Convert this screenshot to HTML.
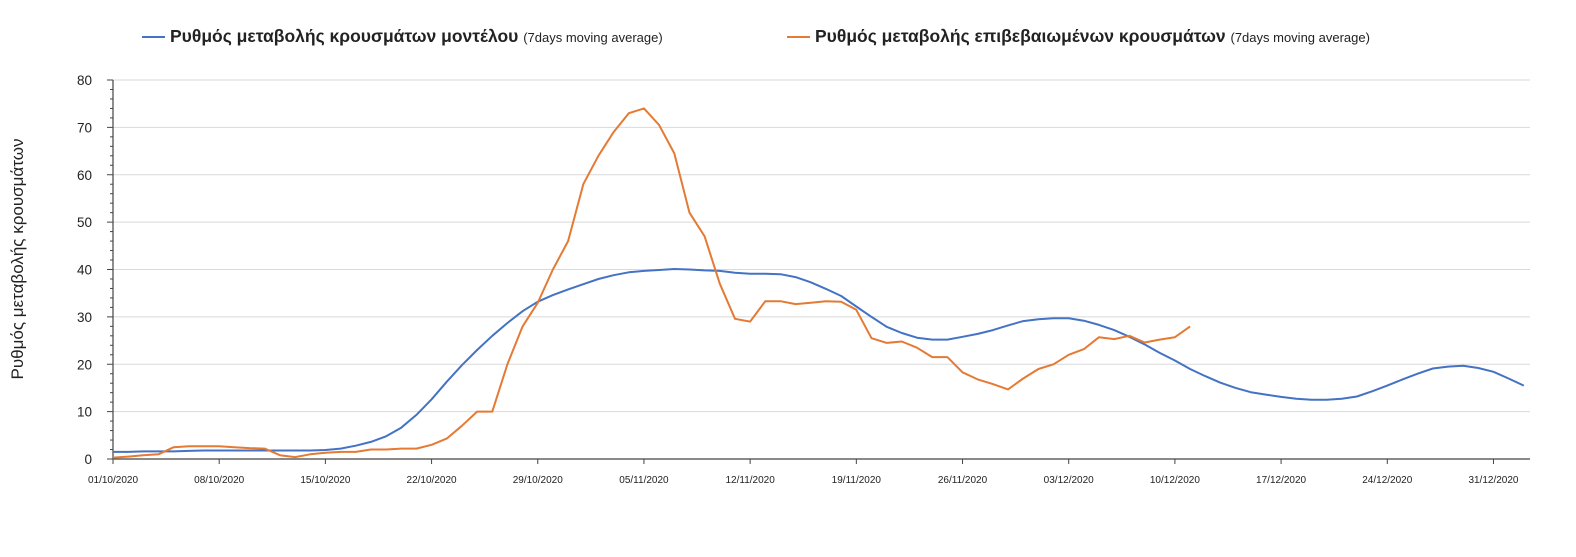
<!DOCTYPE html>
<html><head><meta charset="utf-8"><style>
body{margin:0;background:#fff;font-family:"Liberation Sans","DejaVu Sans",sans-serif}
svg text{font-family:"Liberation Sans","DejaVu Sans",sans-serif}
</style></head><body>
<svg id="c" width="1576" height="552" xmlns="http://www.w3.org/2000/svg">
<g>
<g>
<line x1="142" y1="37" x2="165" y2="37" stroke="#4472c4" stroke-width="2"/>
<text x="170" y="42" font-size="17.5" font-weight="bold" fill="#222">Ρυθμός μεταβολής κρουσμάτων μοντέλου <tspan font-size="13" font-weight="normal">(7days moving average)</tspan></text>
</g>
<g>
<line x1="787" y1="37" x2="810" y2="37" stroke="#e47a34" stroke-width="2"/>
<text x="815" y="42" font-size="17.5" font-weight="bold" fill="#222">Ρυθμός μεταβολής επιβεβαιωμένων κρουσμάτων <tspan font-size="13" font-weight="normal">(7days moving average)</tspan></text>
</g>
</g>
<text transform="translate(23,259) rotate(-90)" text-anchor="middle" font-size="17" fill="#222">Ρυθμός μεταβολής κρουσμάτων</text>
<g id="grid"></g><g id="axes"></g><g id="series"></g>
</svg>
<script>
const yTicks=[0,10,20,30,40,50,60,70,80];
const xTickLabels=["01/10/2020","08/10/2020","15/10/2020","22/10/2020","29/10/2020","05/11/2020","12/11/2020","19/11/2020","26/11/2020","03/12/2020","10/12/2020","17/12/2020","24/12/2020","31/12/2020"];
const modelValues=[1.5,1.5,1.6,1.6,1.6,1.7,1.8,1.8,1.8,1.8,1.8,1.8,1.8,1.8,1.9,2.2,2.8,3.6,4.8,6.6,9.3,12.6,16.3,19.8,23,26,28.7,31.2,33.2,34.6,35.8,36.9,38,38.8,39.4,39.7,39.9,40.1,40,39.8,39.7,39.3,39.1,39.1,39,38.4,37.3,35.9,34.4,32.2,30,27.9,26.6,25.6,25.2,25.2,25.8,26.4,27.2,28.2,29.1,29.5,29.7,29.7,29.2,28.3,27.2,25.8,24.2,22.4,20.8,19,17.5,16.1,15,14.1,13.6,13.1,12.7,12.5,12.5,12.7,13.2,14.3,15.5,16.8,18,19.1,19.5,19.7,19.2,18.4,17.0,15.5];
const confirmedValues=[0.3,0.5,0.8,1,2.5,2.7,2.7,2.7,2.5,2.3,2.2,0.8,0.4,1,1.3,1.5,1.5,2,2,2.2,2.2,3,4.3,7,10,10,20,28,33,40,46,58,64,69,73,74,70.5,64.5,52,47,37,29.6,29,33.3,33.3,32.7,33,33.3,33.2,31.5,25.5,24.5,24.8,23.5,21.5,21.5,18.3,16.8,15.8,14.7,17,19,20,22,23.2,25.7,25.3,26,24.6,25.2,25.7,28];
const NS="http://www.w3.org/2000/svg";
const X0=113,DAY=15.17,Y0=459,YS=379/80,XR=1530;
const xs=d=>X0+d*DAY, ys=v=>Y0-v*YS;
function mk(t,a,p){const e=document.createElementNS(NS,t);for(const k in a)e.setAttribute(k,a[k]);p.appendChild(e);return e;}
const grid=document.getElementById('grid'),axes=document.getElementById('axes'),ser=document.getElementById('series');
yTicks.forEach(v=>{
 if(v>0){const g=mk('line',{x1:X0,x2:XR,y1:ys(v),y2:ys(v),stroke:'#d9d9d9','stroke-width':1},grid);
 
 }
 const t=mk('text',{x:92,y:ys(v)+5,'text-anchor':'end','font-size':13.5,fill:'#222'},axes);t.textContent=v;
 
 
});
for(let v=0;v<=80;v+=2){mk('line',{x1:X0-(v%10==0?6:3),x2:X0,y1:ys(v),y2:ys(v),stroke:'#444','stroke-width':1},axes);}
const ya=mk('line',{x1:X0,x2:X0,y1:Y0,y2:ys(80),stroke:'#444','stroke-width':1.2},axes);


const xa=mk('line',{x1:X0,x2:XR,y1:Y0,y2:Y0,stroke:'#444','stroke-width':1.2},axes);


xTickLabels.forEach((l,i)=>{const x=xs(i*7);
 mk('line',{x1:x,x2:x,y1:Y0,y2:Y0+5,stroke:'#444'},axes);
 const t=mk('text',{x:x,y:483,'text-anchor':'middle','font-size':10,fill:'#222'},axes);t.textContent=l;
 
 
});
function line(vals,col,name){const p=mk('polyline',{points:vals.map((v,i)=>xs(i).toFixed(1)+','+ys(v).toFixed(1)).join(' '),fill:'none',stroke:col,'stroke-width':2,'stroke-linejoin':'round'},ser);
 
 }
line(modelValues,'#4472c4','model-series-line');
line(confirmedValues,'#e47a34','confirmed-series-line');
</script>
</body></html>
